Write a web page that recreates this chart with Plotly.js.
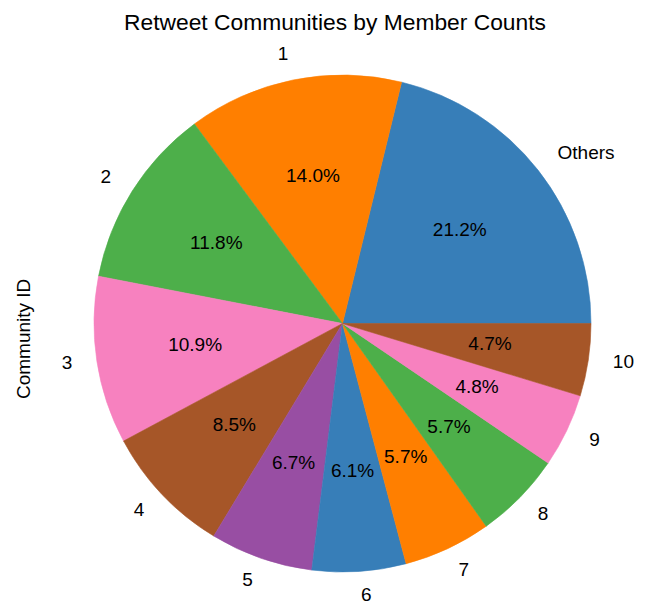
<!DOCTYPE html>
<html>
<head>
<meta charset="utf-8">
<script src="https://cdn.plot.ly/plotly-3.0.1.min.js"></script>
<style>html,body{margin:0;padding:0;background:#fff;}#chart{width:646px;height:604px;}</style>
</head>
<body>
<div id="chart"></div>
<script>
// Data
var communities = ['Others', '1', '2', '3', '4', '5', '6', '7', '8', '9', '10'];
var shares = [21.2, 14.0, 11.8, 10.9, 8.5, 6.7, 6.1, 5.7, 5.7, 4.8, 4.7];
var palette = ['#377eb8', '#ff7f00', '#4daf4a', '#f781bf', '#a65628', '#984ea3'];
var chartTitle = 'Retweet Communities by Member Counts';
var yLabel = 'Community ID';

// Derived angles (counterclockwise from 3 o'clock)
var total = shares.reduce(function (a, b) { return a + b; }, 0);
var spans = shares.map(function (v) { return v / total * 360; });
var mids = [];
var acc = 0;
spans.forEach(function (s) { mids.push(acc + s / 2); acc += s; });
var colors = communities.map(function (_, i) { return palette[i % palette.length]; });
var pctText = shares.map(function (v) { return (v / total * 100).toFixed(1) + '%'; });
var outerPos = mids.map(function (m) {
  return Math.cos(m * Math.PI / 180) > 0 ? 'middle right' : 'middle left';
});

var FONT = '"Liberation Sans", Arial, Helvetica, sans-serif';
var INK = '#000000';

var slices = {
  type: 'barpolar',
  r: shares.map(function () { return 1; }),
  theta: mids,
  width: spans,
  marker: { color: colors, line: { color: colors, width: 0.6 } },
  hoverinfo: 'skip',
  showlegend: false
};

var pctLabels = {
  type: 'scatterpolar',
  mode: 'text',
  r: shares.map(function () { return 0.6; }),
  theta: mids,
  text: pctText,
  textposition: 'middle center',
  textfont: { family: FONT, size: 19, color: INK },
  marker: { size: 0 },
  cliponaxis: false,
  hoverinfo: 'skip',
  showlegend: false
};

var outerLabels = {
  type: 'scatterpolar',
  mode: 'text',
  r: shares.map(function () { return 1.1; }),
  theta: mids,
  text: communities,
  textposition: outerPos,
  textfont: { family: FONT, size: 19, color: INK },
  marker: { size: 0 },
  cliponaxis: false,
  hoverinfo: 'skip',
  showlegend: false
};

var layout = {
  width: 646,
  height: 604,
  margin: { l: 0, r: 0, t: 0, b: 0 },
  paper_bgcolor: '#ffffff',
  plot_bgcolor: '#ffffff',
  font: { family: FONT, color: INK },
  showlegend: false,
  title: {
    text: chartTitle,
    font: { family: FONT, size: 22.8, color: INK },
    x: 0.5186, xref: 'paper', xanchor: 'center',
    y: 0.9636, yref: 'paper', yanchor: 'middle'
  },
  polar: {
    domain: { x: [0.09935, 0.96102], y: [0.00361, 0.92520] },
    bgcolor: 'rgba(0,0,0,0)',
    bargap: 0,
    radialaxis: { visible: false, range: [0, 1.12], showgrid: false },
    angularaxis: { visible: false, rotation: 0, direction: 'counterclockwise', thetaunit: 'degrees', showgrid: false }
  },
  annotations: [{
    text: yLabel,
    textangle: -90,
    xref: 'paper', yref: 'paper',
    x: 0.0364, y: 0.4379,
    xanchor: 'center', yanchor: 'middle',
    showarrow: false,
    font: { family: FONT, size: 19, color: INK }
  }]
};

Plotly.newPlot('chart', [slices, pctLabels, outerLabels], layout, { displayModeBar: false, staticPlot: true });
</script>
</body>
</html>
